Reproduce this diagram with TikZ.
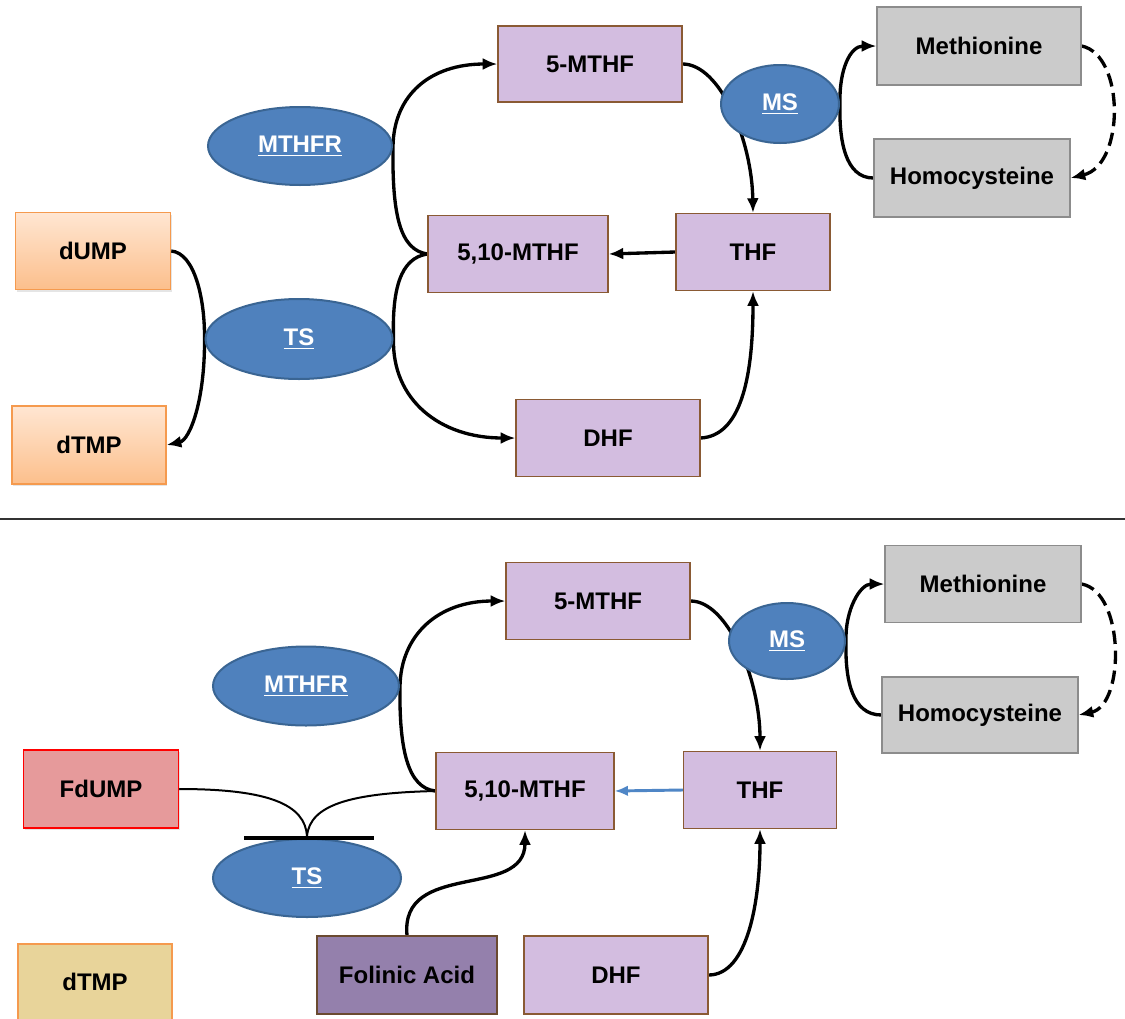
\documentclass[tikz,border=0pt]{standalone}
\usepackage{fontspec}
\setmainfont{Liberation Sans}
\usetikzlibrary{shapes.geometric,arrows.meta,shadows}
\definecolor{lav}{HTML}{D3BDE0}
\definecolor{lavborder}{HTML}{8A5A34}
\definecolor{ellfill}{HTML}{4F81BD}
\definecolor{elldraw}{HTML}{3A6593}
\definecolor{grayfill}{HTML}{CBCBCB}
\definecolor{graydraw}{HTML}{8C8C8C}
\definecolor{orangetop}{HTML}{FFE6D2}
\definecolor{orangebot}{HTML}{FCBF8C}
\definecolor{orangedraw}{HTML}{F59A4E}
\definecolor{fdfill}{HTML}{E69A9B}
\definecolor{tanfill}{HTML}{E8D49A}
\definecolor{folfill}{HTML}{9480AC}
\definecolor{foldraw}{HTML}{6A4A30}
\definecolor{bluearrow}{HTML}{4F86C6}
\pgfdeclarelayer{back}
\pgfdeclarelayer{bg}
\pgfsetlayers{back,bg,main}
\tikzset{
  lbl/.style={font=\fontsize{18}{20}\selectfont\bfseries, text=black},
  purplebox/.style={lbl, rectangle, fill=lav, draw=lavborder, line width=0.9pt},
  graybox/.style={lbl, rectangle, fill=grayfill, draw=graydraw, line width=0.9pt},
  orangebox/.style={lbl, rectangle, top color=orangetop, bottom color=orangebot, draw=orangedraw, line width=1pt,
     drop shadow={opacity=0.2, shadow xshift=1pt, shadow yshift=-1.5pt}},
  fdbox/.style={lbl, rectangle, fill=fdfill, draw=red, line width=1pt,
     drop shadow={opacity=0.2, shadow xshift=1pt, shadow yshift=-1.5pt}},
  tanbox/.style={lbl, rectangle, fill=tanfill, draw=orangedraw, line width=1pt},
  folbox/.style={lbl, rectangle, fill=folfill, draw=foldraw, line width=1pt},
  enzyme/.style={ellipse, fill=ellfill, draw=elldraw, line width=1.5pt, inner sep=0pt,
     font=\fontsize{18}{20}\selectfont\bfseries, text=white},
  conn/.style={line width=2.5pt, black},
  arr/.style={conn, -{Latex[length=11pt,width=9pt]}},
  dasharr/.style={arr, dash pattern=on 10pt off 5pt},
  thinconn/.style={line width=1.5pt, black},
  bluearr/.style={line width=2.2pt, bluearrow, -{Latex[length=10pt,width=8pt]}}
}
\begin{document}
\begin{tikzpicture}[x=0.75pt,y=-0.75pt]
\useasboundingbox (0,0) rectangle (1125,1018);
\begin{pgfonlayer}{back}
\fill[white] (0,0) rectangle (1125,1018);
\end{pgfonlayer}

% ---------- top panel ----------
\node[purplebox, minimum width=138pt, minimum height=57pt] (m5a) at (590,64) {5-MTHF};
\node[enzyme, minimum width=88.5pt, minimum height=58.5pt] (msa) at (780,104) {\underline{MS}};
\node[graybox, minimum width=153pt, minimum height=58.5pt] (meta) at (979,46) {Methionine};
\node[graybox, minimum width=147pt, minimum height=58.5pt] (homa) at (972,178) {Homocysteine};
\node[enzyme, minimum width=138pt, minimum height=58.5pt] (mthfra) at (300,146) {\underline{MTHFR}};
\node[purplebox, minimum width=135pt, minimum height=57.75pt] (m510a) at (518,254) {5,10-MTHF};
\node[purplebox, minimum width=115.5pt, minimum height=57.75pt] (thfa) at (753,252) {THF};
\node[orangebox, minimum width=116.25pt, minimum height=57.75pt] (dumpa) at (93,251) {dUMP};
\node[enzyme, minimum width=140.25pt, minimum height=60pt] (tsa) at (299,339) {\underline{TS}};
\node[orangebox, minimum width=115.5pt, minimum height=58.5pt] (dtmpa) at (89,445) {dTMP};
\node[purplebox, minimum width=138pt, minimum height=57.75pt] (dhfa) at (608,438) {DHF};

% separator
\coordinate (sepL) at (0,519);
\coordinate (sepR) at (1125,519);
\draw[line width=1pt, black!80] (sepL) -- (sepR);

% ---------- bottom panel ----------
\node[purplebox, minimum width=138pt, minimum height=57.75pt] (m5b) at (598,601) {5-MTHF};
\node[enzyme, minimum width=87pt, minimum height=57pt] (msb) at (787,641) {\underline{MS}};
\node[graybox, minimum width=147pt, minimum height=57.75pt] (metb) at (983,584) {Methionine};
\node[graybox, minimum width=147pt, minimum height=57pt] (homb) at (980,715) {Homocysteine};
\node[enzyme, minimum width=139.5pt, minimum height=59.25pt] (mthfrb) at (306,686) {\underline{MTHFR}};
\node[fdbox, minimum width=116.25pt, minimum height=58.5pt] (fdump) at (101,789) {FdUMP};
\node[purplebox, minimum width=133.5pt, minimum height=57.75pt] (m510b) at (525,791) {5,10-MTHF};
\node[purplebox, minimum width=114.75pt, minimum height=57.75pt] (thfb) at (760,790) {THF};
\node[enzyme, minimum width=141pt, minimum height=58.5pt] (tsb) at (307,878) {\underline{TS}};
\node[tanbox, minimum width=115.5pt, minimum height=57pt] (dtmpb) at (95,982) {dTMP};
\node[folbox, minimum width=135pt, minimum height=58.5pt] (folinic) at (407,975) {Folinic Acid};
\node[purplebox, minimum width=138pt, minimum height=58.5pt] (dhfb) at (616,975) {DHF};

\coordinate (barL) at (244,838);
\coordinate (barR) at (374,838);
\coordinate (barC) at (307,836);

\begin{pgfonlayer}{bg}
% top connectors
\draw[arr] (m510a.west) .. controls (400,250) and (392,215) .. (mthfra.east)
           .. controls (394,95) and (430,64) .. (m5a.west);
\draw[arr] (m510a.west) .. controls (400,258) and (392,290) .. (tsa.east)
           .. controls (392,400) and (440,438) .. (dhfa.west);
\draw[arr] (dumpa.east) .. controls (195,253) and (205,300) .. (tsa.west)
           .. controls (205,400) and (190,440) .. (dtmpa.east);
\draw[arr] (m5a.east) .. controls (720,64) and (752,140) .. (thfa.north);
\draw[arr] (homa.west) .. controls (845,178) and (839,140) .. (msa.east)
           .. controls (839,70) and (850,46) .. (meta.west);
\draw[dasharr] (meta.east) .. controls (1125,55) and (1125,165) .. (homa.east);
\draw[arr] (thfa.west) -- (m510a.east);
\draw[arr] (dhfa.east) .. controls (740,436) and (753,380) .. (thfa.south);

% bottom connectors
\draw[arr] (m510b.west) .. controls (408,788) and (399,750) .. (mthfrb.east)
           .. controls (401,635) and (438,601) .. (m5b.west);
\draw[thinconn] (fdump.east) .. controls (270,789) and (305,805) .. (barC);
\draw[thinconn] (m510b.west) .. controls (350,793) and (310,805) .. (barC);
\draw[arr] (folinic.north) .. controls (400,860) and (525,900) .. (m510b.south);
\draw[arr] (dhfb.east) .. controls (748,975) and (760,900) .. (thfb.south);
\draw[arr] (m5b.east) .. controls (728,601) and (760,680) .. (thfb.north);
\draw[arr] (homb.west) .. controls (852,715) and (845,680) .. (msb.east)
           .. controls (845,610) and (860,584) .. (metb.west);
\draw[dasharr] (metb.east) .. controls (1125,592) and (1125,705) .. (homb.east);
\end{pgfonlayer}
\draw[bluearr] (thfb.west) -- (m510b.east);
\draw[line width=3pt, black] (barL) -- (barR);
\end{tikzpicture}
\end{document}
